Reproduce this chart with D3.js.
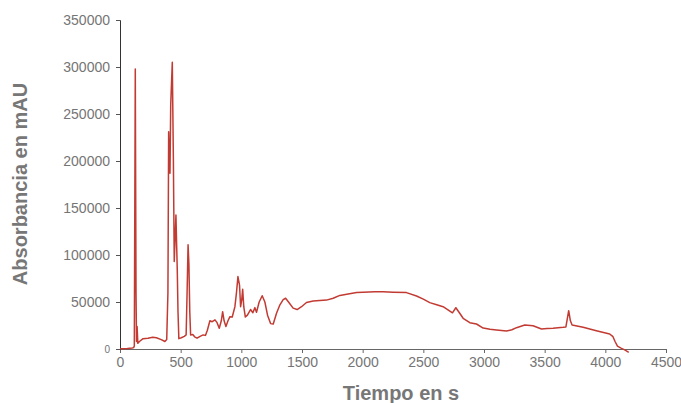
<!doctype html>
<html lang="es">
<head>
<meta charset="utf-8">
<title>Absorbancia</title>
<script src="https://d3js.org/d3.v7.min.js"></script>
<style>
  body { margin: 0; background: #fff; }
  svg text { font-family: "Liberation Sans", Arial, sans-serif; }
</style>
</head>
<body>
<div id="chart"></div>
<script>
// tiempo (s) y absorbancia (mAU)
var tiempo = [0, 60, 100, 112, 118, 126, 132, 136, 141, 147, 160, 190, 230, 270, 300, 340, 370, 385, 395,
  401, 407, 412, 418, 431, 440, 447, 452, 461, 467, 472, 478, 485, 505, 530, 545, 553, 561, 568, 575, 582,
  600, 615, 635, 660, 685, 705, 720, 741, 760, 783, 800, 818, 835, 846, 858, 873, 890, 906, 925, 947, 960,
  972, 985, 994, 1003, 1011, 1020, 1033, 1050, 1076, 1095, 1112, 1125, 1147, 1172, 1194, 1216, 1241, 1263,
  1290, 1318, 1345, 1365, 1395, 1427, 1460, 1496, 1537, 1592, 1647, 1702, 1757, 1812, 1880, 1950, 2004,
  2100, 2169, 2250, 2361, 2444, 2500, 2553, 2610, 2663, 2700, 2740, 2768, 2800, 2828, 2883, 2938, 2993,
  3050, 3103, 3185, 3230, 3268, 3336, 3404, 3474, 3520, 3569, 3652, 3675, 3698, 3712, 3726, 3817, 3926,
  4036, 4063, 4080, 4100, 4133, 4160, 4193];
var absorbancia = [300, 600, 1000, 1500, 3000, 298000, 60000, 8000, 24000, 6000, 8000, 11000, 11500, 12500,
  12000, 10000, 8000, 10000, 60000, 231000, 200000, 187000, 260000, 305000, 200000, 93000, 110000, 142500,
  110000, 84000, 40000, 11000, 12000, 13500, 15000, 60000, 111000, 90000, 40000, 15000, 15500, 13000, 11500,
  13500, 15000, 14500, 20000, 30000, 29000, 31000, 28000, 22000, 30000, 39700, 30000, 24000, 30000, 34400,
  34000, 45000, 60000, 77000, 68000, 45000, 52000, 63500, 45000, 34000, 36000, 42000, 38600, 44000, 39000,
  50000, 56700, 50000, 36000, 27000, 26500, 38000, 47000, 52500, 54000, 49000, 43500, 42000, 45000, 49500,
  51000, 51500, 52000, 54000, 57000, 58500, 60000, 60500, 61000, 61000, 60500, 60000, 56400, 53000, 49300,
  47000, 45000, 42000, 38500, 43900, 38000, 32700, 28000, 26600, 22300, 21000, 20200, 19100, 20500, 22700,
  25500, 24800, 21300, 21800, 22000, 23100, 23500, 40700, 30000, 25500, 23100, 19500, 16000, 13100, 8000,
  3000, 700, -1000, -3500];
var xTicks = [0, 500, 1000, 1500, 2000, 2500, 3000, 3500, 4000, 4500];
var yTicks = [0, 50000, 100000, 150000, 200000, 250000, 300000, 350000];

var w = 681, h = 403;
var m = {top: 20, right: 15, bottom: 54, left: 120};

var svg = d3.select("#chart").append("svg")
  .attr("width", w)
  .attr("height", h);

var x = d3.scaleLinear().domain([0, 4500]).range([m.left, w - m.right]);
var y = d3.scaleLinear().domain([0, 350000]).range([h - m.bottom, m.top]);

// eje x
var gx = svg.append("g")
  .attr("transform", "translate(0," + (h - m.bottom) + ")")
  .call(d3.axisBottom(x).tickValues(xTicks).tickSize(4).tickPadding(4).tickFormat(d3.format("d")));
gx.select(".domain").attr("stroke", "#666");
gx.selectAll(".tick line").attr("stroke", "#666");
gx.selectAll(".tick text").attr("fill", "#757575").style("font-size", "14px");

// eje y
var gy = svg.append("g")
  .attr("transform", "translate(" + m.left + ",0)")
  .call(d3.axisLeft(y).tickValues(yTicks).tickSize(4).tickPadding(6).tickFormat(d3.format("d")));
gy.select(".domain").attr("stroke", "#333");
gy.selectAll(".tick line").attr("stroke", "#555");
gy.selectAll(".tick text").attr("fill", "#757575")
  .style("font-size", function(d) { return d === 0 ? "10px" : "14px"; });

// linea
var pts = tiempo.map(function(t, i) { return [t, absorbancia[i]]; });
var line = d3.line()
  .x(function(d) { return x(d[0]); })
  .y(function(d) { return y(d[1]); });

svg.append("path")
  .datum(pts)
  .attr("fill", "none")
  .attr("stroke", "#c23b33")
  .attr("stroke-width", 1.5)
  .attr("stroke-linejoin", "round")
  .attr("d", line);

// titulos
svg.append("text")
  .attr("x", 401)
  .attr("y", 400)
  .attr("text-anchor", "middle")
  .attr("fill", "#777")
  .style("font-size", "20px")
  .style("font-weight", "bold")
  .text("Tiempo en s");

svg.append("text")
  .attr("transform", "translate(27,184) rotate(-90)")
  .attr("text-anchor", "middle")
  .attr("fill", "#777")
  .style("font-size", "20px")
  .style("font-weight", "bold")
  .text("Absorbancia en mAU");
</script>
</body>
</html>
